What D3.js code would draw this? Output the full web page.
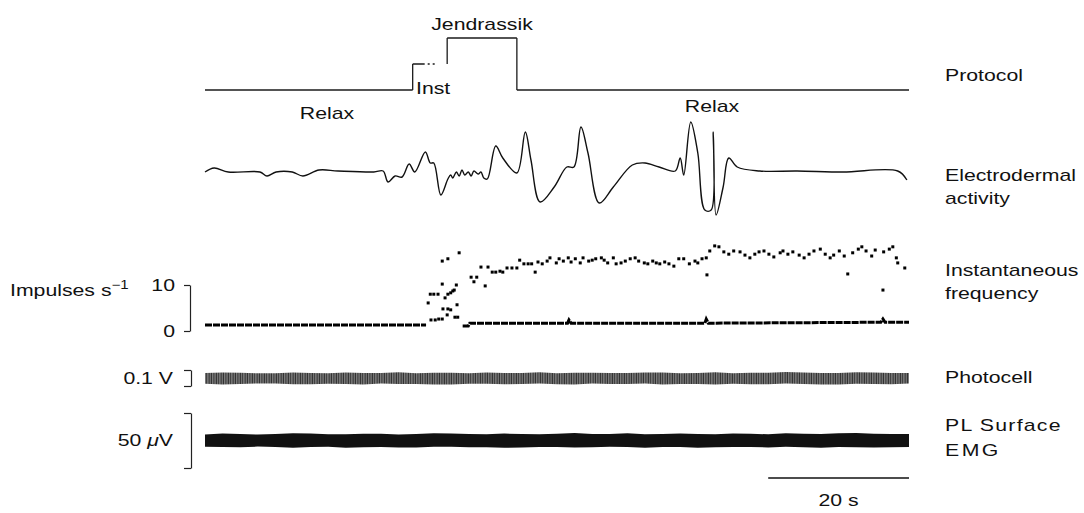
<!DOCTYPE html>
<html>
<head>
<meta charset="utf-8">
<script src="https://cdn.jsdelivr.net/npm/d3@7"></script>
<style>
  body { margin: 0; background: #fff; }
  svg { display: block; font-family: "Liberation Sans", Arial, sans-serif; }
  text { fill: #111; font-size: 17px; }
</style>
</head>
<body>
<div id="chart"></div>
<script>
// protocol steps (s, level: 0 relax, 1 inst, 2 jendrassik)
const protocolTimes = [0, 29.5, 34.4, 44.3, 100];
const protocolLevels = [0, 1, 2, 0, 0];

// electrodermal activity (s, arbitrary units)
const edaTimes = [0, 1.3, 3.3, 7.8, 8.8, 10.1, 12.4, 13.9, 16.2, 18.9, 24.0, 25.3, 26.0, 27.0, 28.0,
  29.0, 29.8, 31.3, 32.0, 32.5, 33.5, 34.5, 34.9, 35.2, 35.7, 36.1, 36.5, 36.9, 37.4, 37.8,
  38.2, 38.8, 39.2, 39.6, 40.1, 41.3, 42.3, 44.3, 45.5, 46.3, 47.6, 49.6, 51.4, 52.4, 53.4,
  54.4, 56.0, 58.0, 60.7, 62.5, 64.5, 66.8, 67.5, 68.0, 69.0, 70.0, 71.0, 71.9, 72.2, 72.6,
  73.6, 74.4, 75.6, 78.8, 84.1, 90.6, 98.4, 99.7];
const edaValues = [0, 4, 0, 0, -4, 0, 0, -4, 2, 1, 0, 1, -10, -4, -5,
  8, 0, 20, 9, 9, -23, -7, -3, -6, 0, -4, 2, -3, 0, -4,
  1, -2, 0, -6, -7, 26, 14, -1, 40, 12, -30, -15, 5, 5, 45,
  19, -31, -15, 7, 9, 5, 1, 14, -3, 50, 19, -38, -38, 40, -43,
  -15, 14, 5, 1, 1, 0, 1, -8];

// instantaneous frequency, tonic unit (s, impulses/s)
const tonicBefore = [[0, 1.3], [31.4, 1.3]];
const tonicAfter = [[36.6, 1.1], [37.4, 1.1], [37.6, 1.7], [51.5, 1.7], [51.7, 2.4], [52.0, 1.7],
  [71.0, 1.7], [71.2, 2.6], [71.5, 1.7], [96.0, 1.9], [96.3, 2.6], [96.6, 1.9], [100, 1.9]];

// instantaneous frequency, scattered discharges (s, impulses/s)
const freqDots = [
  [31.7, 6.1], [32.0, 8.0], [32.5, 8.0], [33.1, 8.0], [33.7, 15.2], [34.5, 15.7], [36.1, 17.0],
  [33.7, 10.2], [34.1, 7.2], [34.5, 8.0], [34.9, 8.3], [35.2, 8.7], [35.4, 8.9], [35.7, 10.0],
  [33.8, 4.8], [34.5, 4.8], [34.9, 4.6], [34.4, 3.5], [35.8, 5.7], [35.5, 3.0], [35.9, 3.0],
  [32.1, 2.4], [32.7, 2.4], [33.2, 2.6], [33.7, 2.6],
  [37.8, 11.7], [38.2, 10.7], [38.6, 11.7], [39.2, 13.9], [39.8, 9.8], [40.2, 13.9], [40.8, 12.8],
  [41.3, 12.8], [41.9, 13.0], [42.3, 12.8], [42.9, 13.7], [43.6, 13.7], [44.3, 13.7], [44.7, 15.4],
  [45.3, 14.6], [45.9, 14.6], [46.4, 14.6], [46.9, 12.8], [47.3, 15.0],
  [47.9, 14.6], [48.6, 15.2], [49.0, 15.9], [49.9, 14.8], [50.3, 15.7], [50.9, 15.2], [51.6, 15.9],
  [52.0, 15.0], [52.6, 15.7], [53.3, 14.8], [53.7, 15.9], [54.5, 15.2], [55.0, 15.4], [55.5, 15.7],
  [56.3, 15.9], [56.7, 15.4], [57.2, 14.8], [58.0, 15.9], [58.4, 14.6], [59.1, 14.8], [59.7, 15.2],
  [60.4, 15.7], [61.1, 15.9], [61.6, 15.2], [62.4, 14.8], [62.9, 14.6], [63.6, 15.2], [64.1, 14.8],
  [64.6, 14.6], [65.3, 15.0], [65.9, 14.6], [66.6, 14.1], [67.3, 15.7], [68.0, 15.7], [68.8, 14.6],
  [69.6, 15.2], [70.0, 14.8], [70.6, 15.7], [71.2, 15.9], [71.3, 12.2],
  [71.7, 17.4], [72.4, 18.5], [73.0, 18.3], [73.7, 17.2], [74.4, 16.7], [75.1, 17.4], [76.0, 17.2],
  [76.7, 16.5], [77.4, 15.9], [78.1, 16.7], [78.7, 17.2], [79.4, 17.4], [80.1, 16.7], [80.8, 16.1],
  [81.7, 17.0], [82.1, 17.4], [82.8, 16.7], [83.5, 17.2], [84.4, 16.5], [85.1, 15.9], [85.8, 16.7],
  [86.5, 17.4], [87.4, 17.8], [88.1, 16.7], [88.8, 15.9], [89.3, 16.5], [90.1, 17.4], [90.8, 16.3],
  [91.3, 12.4], [92.0, 17.0], [92.8, 17.8], [93.3, 18.3], [93.9, 17.4], [94.7, 16.3], [95.2, 17.6],
  [96.3, 8.9], [96.4, 17.2], [97.2, 17.8], [97.7, 18.3], [98.2, 15.9], [98.4, 14.8], [99.4, 13.7]
];

// photocell and EMG envelopes, sampled every 2.5 s
const envTimes = [0, 2.5, 5, 7.5, 10, 12.5, 15, 17.5, 20, 22.5, 25, 27.5, 30, 32.5, 35, 37.5, 40,
  42.5, 45, 47.5, 50, 52.5, 55, 57.5, 60, 62.5, 65, 67.5, 70, 72.5, 75, 77.5, 80, 82.5, 85, 87.5,
  90, 92.5, 95, 97.5, 100];
const photoHigh = [0.081, 0.084, 0.083, 0.079, 0.080, 0.085, 0.082, 0.080, 0.084, 0.082, 0.081,
  0.086, 0.079, 0.083, 0.083, 0.080, 0.085, 0.082, 0.082, 0.086, 0.080, 0.083, 0.083, 0.081,
  0.081, 0.085, 0.084, 0.080, 0.082, 0.086, 0.080, 0.083, 0.083, 0.087, 0.085, 0.081, 0.082,
  0.086, 0.084, 0.082, 0.081];
const photoLow = [0.014, 0.010, 0.012, 0.016, 0.015, 0.011, 0.011, 0.014, 0.013, 0.009, 0.016,
  0.012, 0.012, 0.009, 0.010, 0.014, 0.014, 0.011, 0.013, 0.015, 0.011, 0.009, 0.015, 0.012,
  0.012, 0.016, 0.010, 0.013, 0.013, 0.010, 0.014, 0.011, 0.011, 0.015, 0.012, 0.009, 0.010,
  0.014, 0.013, 0.011, 0.015];
const emgHigh = [5.5, 6.4, 6.0, 5.4, 5.8, 6.6, 6.3, 5.7, 5.6, 6.2, 6.1, 5.5, 5.9, 6.7, 6.4, 5.8,
  5.7, 6.3, 6.0, 5.6, 6.2, 6.8, 5.8, 6.0, 6.5, 5.7, 6.0, 6.4, 5.9, 5.6, 6.3, 6.1, 5.7, 6.6, 6.1,
  5.8, 6.6, 6.9, 6.2, 5.9, 6.0];
const emgLow = [-5.6, -6.0, -6.2, -5.5, -5.9, -6.6, -6.0, -5.7, -6.5, -6.1, -5.8, -6.4, -6.3, -5.6,
  -5.7, -6.2, -6.1, -6.7, -6.4, -5.8, -5.9, -6.3, -6.2, -5.6, -5.8, -6.5, -6.0, -5.9, -6.6, -6.2,
  -5.9, -6.0, -6.3, -5.7, -6.1, -6.5, -5.8, -6.2, -6.4, -6.1, -6.0];

const freqTicks = [0, 10];
const photoBar = [0, 0.1];
const emgBar = [-25, 25];
const timeBar = [80, 100];

const width = 1084, height = 513;
const stretch = 1.25;

const svg = d3.select("#chart").append("svg")
  .attr("width", width)
  .attr("height", height);

svg.append("rect").attr("width", width).attr("height", height).attr("fill", "#fff");

const x = d3.scaleLinear().domain([0, 100]).range([205, 909]);
const yProtocol = d3.scaleLinear().domain([0, 2]).range([90, 38]);
const yEda = d3.scaleLinear().domain([-50, 50]).range([222, 122]);
const yFreq = d3.scaleLinear().domain([0, 10]).range([331, 285]);
const yPhoto = d3.scaleLinear().domain([0, 0.1]).range([386, 370]);
const yEmg = d3.scaleLinear().domain([-25, 25]).range([468, 413]);

function label(txt, px, py, anchor) {
  return svg.append("text")
    .attr("transform", `translate(${px},${py}) scale(${stretch},1)`)
    .attr("text-anchor", anchor || "start")
    .text(txt);
}

// protocol
const protoG = svg.append("g")
  .attr("fill", "none")
  .attr("stroke", "#1a1a1a")
  .attr("stroke-width", 1.3);

protocolTimes.forEach((t, i) => {
  if (i > 0 && protocolLevels[i] !== protocolLevels[i - 1]) {
    protoG.append("line")
      .attr("x1", x(t)).attr("x2", x(t))
      .attr("y1", yProtocol(protocolLevels[i - 1]))
      .attr("y2", yProtocol(protocolLevels[i]));
  }
  if (i < protocolTimes.length - 1) {
    protoG.append("line")
      .attr("x1", x(t)).attr("x2", x(protocolTimes[i + 1]))
      .attr("y1", yProtocol(protocolLevels[i]))
      .attr("y2", yProtocol(protocolLevels[i]))
      .attr("stroke-dasharray", protocolLevels[i] === 1 ? "12,3,2,3,2,40" : null);
  }
});

label("Jendrassik", 482, 30, "middle");
label("Inst", 416, 94);
label("Relax", 327, 119, "middle");
label("Relax", 712, 112, "middle");

// electrodermal activity
const edaLine = d3.line()
  .x((d, i) => x(edaTimes[i]))
  .y(d => yEda(d))
  .curve(d3.curveCatmullRom.alpha(0.5));

svg.append("path")
  .attr("d", edaLine(edaValues))
  .attr("fill", "none")
  .attr("stroke", "#111")
  .attr("stroke-width", 1.4);

// instantaneous frequency
const tonicLine = d3.line()
  .x(d => x(d[0]))
  .y(d => yFreq(d[1]));

[tonicBefore, tonicAfter].forEach(seg => {
  svg.append("path")
    .attr("d", tonicLine(seg))
    .attr("fill", "none")
    .attr("stroke", "#000")
    .attr("stroke-width", 3)
    .attr("stroke-dasharray", "7,1");
});

svg.append("g")
  .selectAll("rect")
  .data(freqDots)
  .join("rect")
  .attr("x", d => x(d[0]) - 1.5)
  .attr("y", d => yFreq(d[1]) - 1.5)
  .attr("width", 3)
  .attr("height", 3)
  .attr("fill", "#000");

const freqAxis = svg.append("g")
  .attr("transform", "translate(190,0)")
  .call(d3.axisLeft(yFreq).tickValues(freqTicks).tickSize(6).tickSizeOuter(0).tickPadding(8));
freqAxis.select(".domain").attr("stroke", "#222").attr("stroke-width", 1.2);
freqAxis.selectAll(".tick line").attr("stroke", "#222").attr("stroke-width", 1.2);
freqAxis.selectAll(".tick text")
  .attr("font-size", 17)
  .attr("font-family", "Liberation Sans, Arial, sans-serif")
  .attr("fill", "#111")
  .attr("transform", `scale(${stretch},1)`)
  .attr("x", -12);

const imp = label("Impulses s", 10, 296);
imp.append("tspan").attr("dy", -7).attr("font-size", 12).text("\u22121");

// photocell
const defs = svg.append("defs");
const tex = defs.append("pattern")
  .attr("id", "photoTex")
  .attr("patternUnits", "userSpaceOnUse")
  .attr("width", 2.4).attr("height", 60);
tex.append("path")
  .attr("d", "M0.5,0V60M1.7,0V60")
  .attr("stroke", "#161616")
  .attr("stroke-width", 0.85);

const photoArea = d3.area()
  .x((d, i) => x(envTimes[i]))
  .y0((d, i) => yPhoto(photoLow[i]))
  .y1(d => yPhoto(d));

svg.append("path")
  .attr("d", photoArea(photoHigh))
  .attr("fill", "url(#photoTex)");

const photoAxis = svg.append("g")
  .attr("transform", "translate(191,0)")
  .call(d3.axisLeft(yPhoto).tickValues(photoBar).tickFormat("").tickSize(7).tickSizeOuter(0));
photoAxis.selectAll("path, line").attr("stroke", "#222").attr("stroke-width", 1.2);
label("0.1  V", 173, 384, "end");

// PL surface EMG
const emgArea = d3.area()
  .x((d, i) => x(envTimes[i]))
  .y0((d, i) => yEmg(emgLow[i]))
  .y1(d => yEmg(d));

svg.append("path")
  .attr("d", emgArea(emgHigh))
  .attr("fill", "#111");

const emgAxis = svg.append("g")
  .attr("transform", "translate(191,0)")
  .call(d3.axisLeft(yEmg).tickValues(emgBar).tickFormat("").tickSize(7).tickSizeOuter(0));
emgAxis.selectAll("path, line").attr("stroke", "#222").attr("stroke-width", 1.2);

const emgLabel = label("50 ", 173, 446, "end");
emgLabel.append("tspan").attr("font-style", "italic").text("\u03bc");
emgLabel.append("tspan").text("V");

// time scale bar
svg.append("line")
  .attr("x1", x(timeBar[0])).attr("x2", x(timeBar[1]))
  .attr("y1", 478).attr("y2", 478)
  .attr("stroke", "#111")
  .attr("stroke-width", 1.3);
label("20 s", (x(timeBar[0]) + x(timeBar[1])) / 2, 506, "middle");

// trace names
label("Protocol", 945, 81);
label("Electrodermal", 945, 181);
label("activity", 945, 204);
label("Instantaneous", 945, 276);
label("frequency", 945, 299);
label("Photocell", 945, 383);
label("PL  Surface", 945, 431).attr("letter-spacing", 1);
label("EMG", 945, 456).attr("letter-spacing", 2);
</script>
</body>
</html>
